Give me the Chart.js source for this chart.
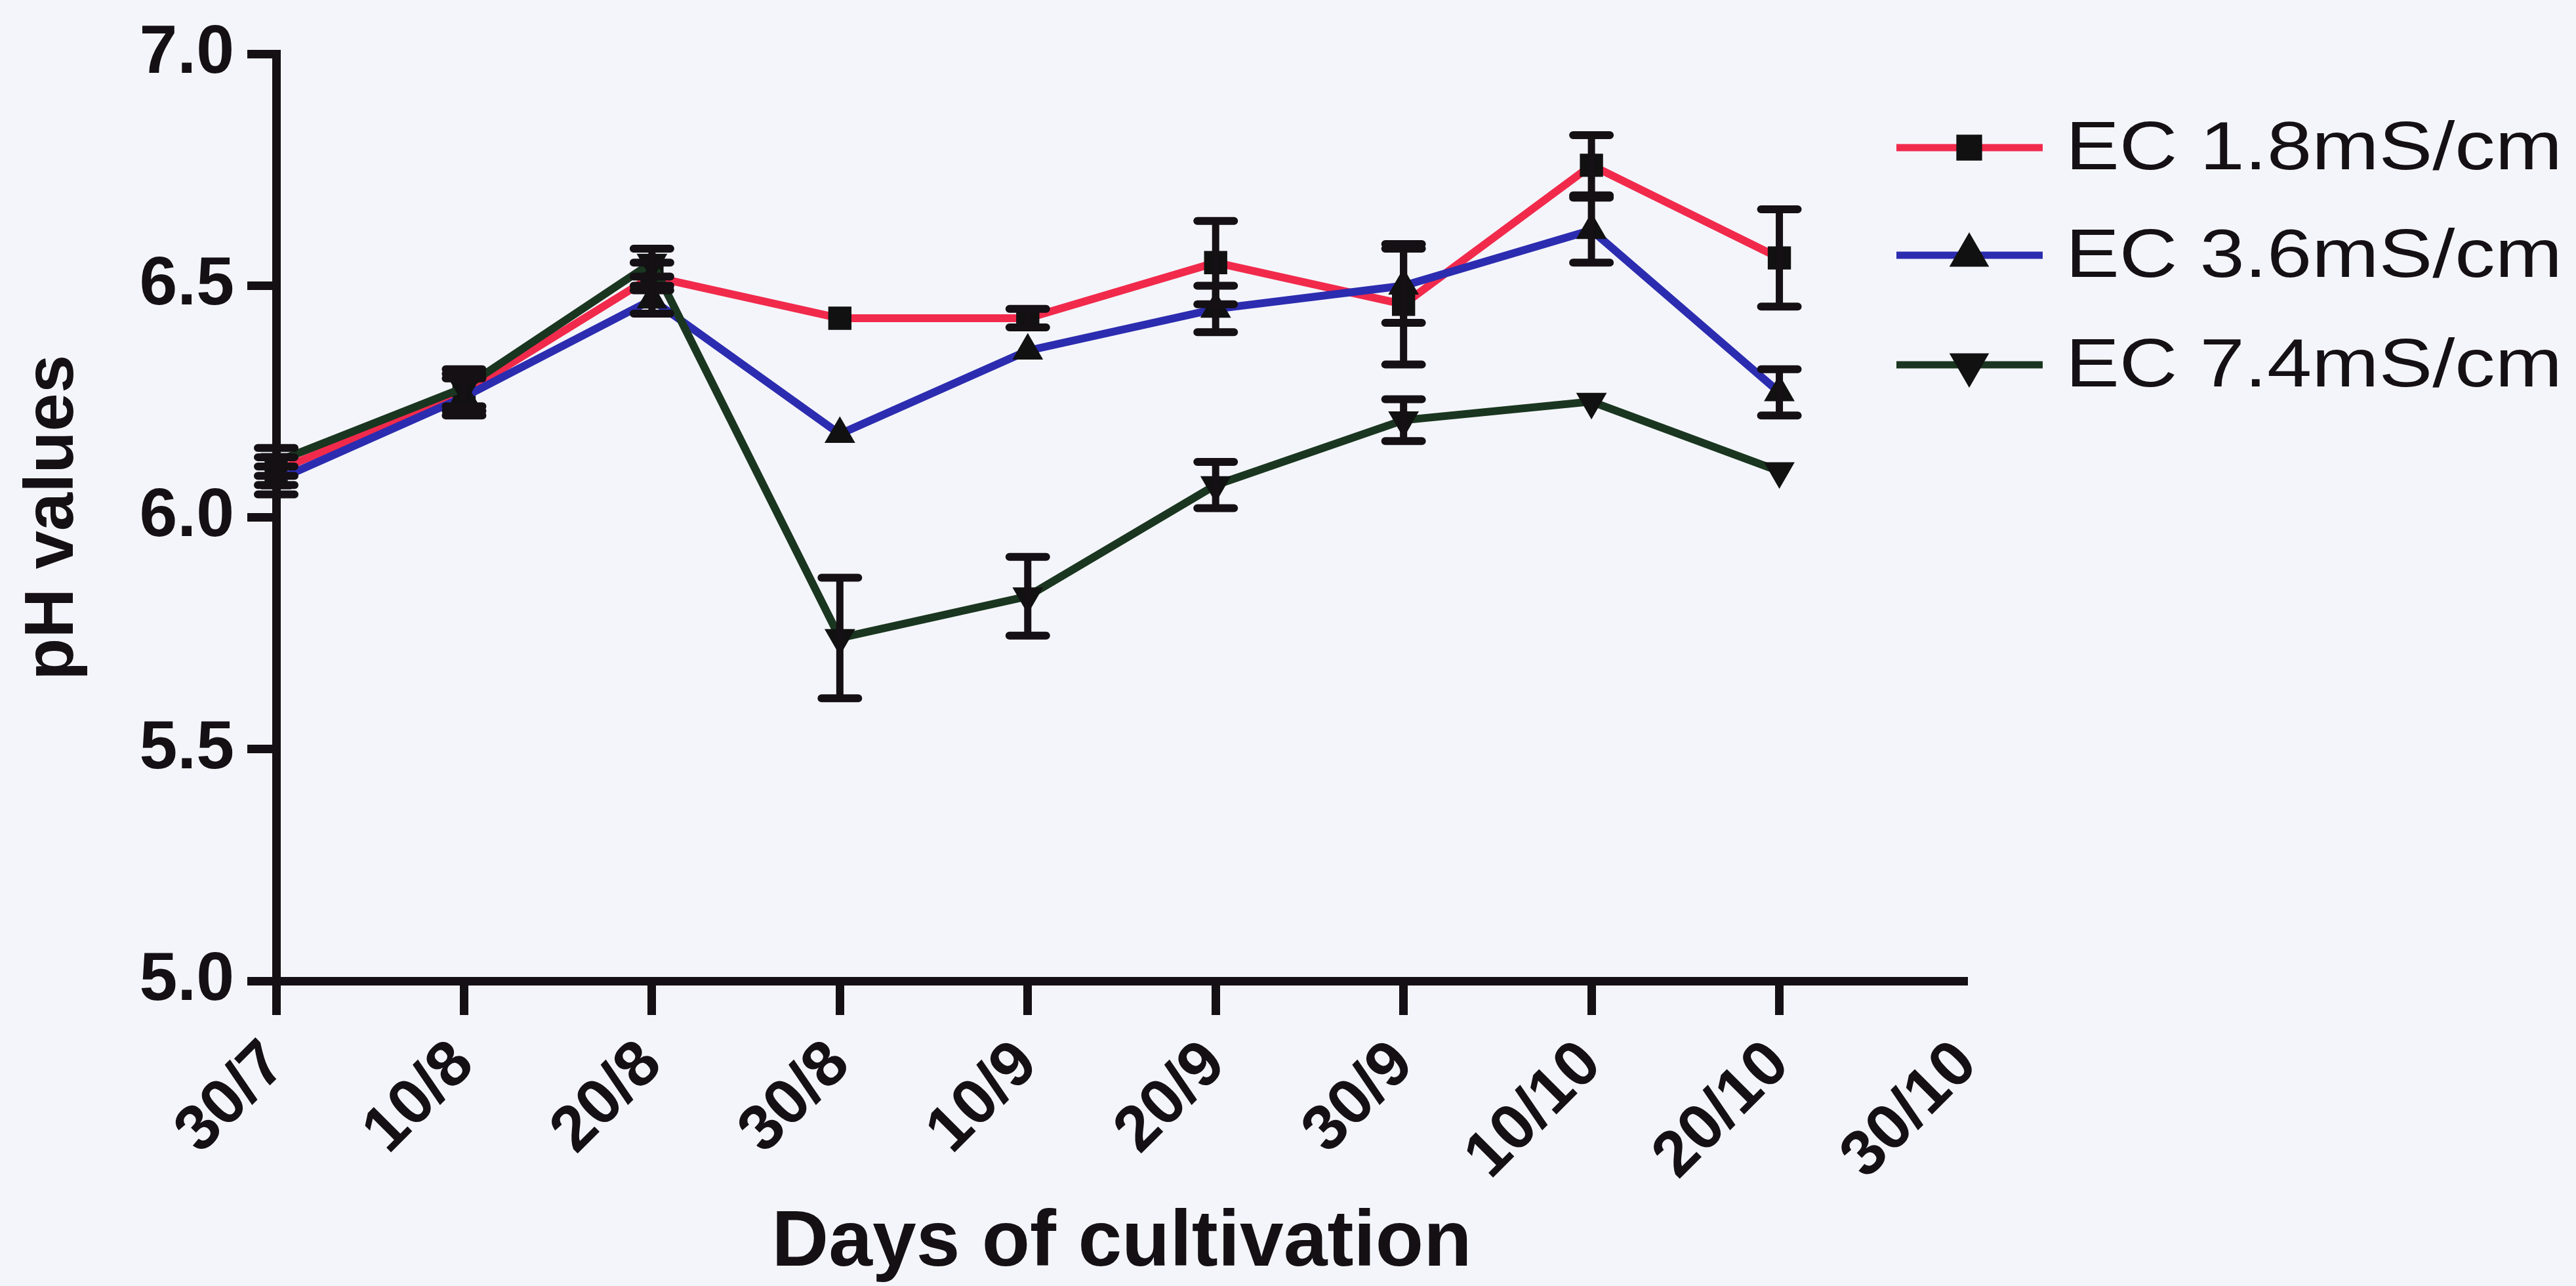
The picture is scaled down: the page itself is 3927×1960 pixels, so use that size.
<!DOCTYPE html>
<html>
<head>
<meta charset="utf-8">
<script src="https://cdn.jsdelivr.net/npm/chart.js@4.4.1/dist/chart.umd.min.js"></script>
<style>
  html, body { margin: 0; padding: 0; background: #f4f5fa; }
  canvas { display: block; }
</style>
</head>
<body>
<canvas id="phChart" width="3927" height="1960"></canvas>
<script>
// sampling dates (day/month) and y ticks
var days = ['30/7', '10/8', '20/8', '30/8', '10/9', '20/9', '30/9', '10/10', '20/10', '30/10'];
var yTicks = [5.0, 5.5, 6.0, 6.5, 7.0];

// mean pH and error per series (0 = bar hidden behind the marker)
var ec18 = [6.10, 6.27, 6.52, 6.43, 6.43, 6.55, 6.46, 6.76, 6.56, null];
var ec18Err = [0.03, 0.04, 0.03, 0, 0.02, 0.09, 0.13, 0.065, 0.105, null];
var ec36 = [6.08, 6.26, 6.47, 6.18, 6.36, 6.45, 6.50, 6.62, 6.27, null];
var ec36Err = [0.03, 0.04, 0.03, 0, 0, 0.05, 0.08, 0.07, 0.05, null];
var ec74 = [6.12, 6.28, 6.55, 5.74, 5.83, 6.07, 6.21, 6.25, 6.10, null];
var ec74Err = [0.03, 0.04, 0.03, 0.13, 0.085, 0.05, 0.045, 0, 0, null];

var allErrors = [ec18Err, ec36Err, ec74Err];

var errorBars = {
    id: 'errorBars',
    afterDatasetsDraw: function (chart) {
        var ctx = chart.ctx;
        var y = chart.scales.y;
        ctx.save();
        ctx.strokeStyle = '#141014';
        ctx.lineCap = 'round';
        chart.data.datasets.forEach(function (ds, i) {
            var meta = chart.getDatasetMeta(i);
            allErrors[i].forEach(function (e, j) {
                if (!e || ds.data[j] == null) return;
                var x = meta.data[j].x;
                var top = y.getPixelForValue(ds.data[j] + e);
                var bot = y.getPixelForValue(ds.data[j] - e);
                ctx.lineWidth = 11;
                ctx.beginPath();
                ctx.moveTo(x, top);
                ctx.lineTo(x, bot);
                ctx.stroke();
                ctx.lineWidth = 12;
                ctx.beginPath();
                ctx.moveTo(x - 28, top);
                ctx.lineTo(x + 28, top);
                ctx.moveTo(x - 28, bot);
                ctx.lineTo(x + 28, bot);
                ctx.stroke();
            });
        });
        ctx.restore();
    }
};

// line + marker + label, the GraphPad way
var sideLegend = {
    id: 'sideLegend',
    afterDraw: function (chart) {
        var ctx = chart.ctx;
        var rows = [225, 389, 556];
        chart.data.datasets.forEach(function (ds, i) {
            var ry = rows[i];
            ctx.save();
            ctx.strokeStyle = ds.borderColor;
            ctx.lineWidth = 11;
            ctx.beginPath();
            ctx.moveTo(2891, ry);
            ctx.lineTo(3114, ry);
            ctx.stroke();
            ctx.fillStyle = '#111';
            ctx.strokeStyle = '#111';
            Chart.helpers.drawPoint(ctx, {
                pointStyle: ds.pointStyle,
                rotation: ds.pointRotation || 0,
                radius: ds.pointStyle === 'rect' ? 20 : 24,
                borderWidth: 1
            }, 3002, ry);
            ctx.translate(3149, ry + 4);
            ctx.scale(1.18, 1);
            ctx.font = '104px "Liberation Sans", Arial, sans-serif';
            ctx.textBaseline = 'middle';
            ctx.fillStyle = '#141014';
            ctx.fillText(ds.label, 0, 0);
            ctx.restore();
        });
    }
};

var ctx = document.getElementById('phChart').getContext('2d');
var chart = new Chart(ctx, {
    type: 'line',
    data: {
        labels: days,
        datasets: [{
            label: 'EC 1.8mS/cm',
            data: ec18,
            borderColor: '#f12a4c',
            borderWidth: 12,
            pointStyle: 'rect',
            pointRadius: 25,
            pointBackgroundColor: '#111',
            pointBorderColor: '#111',
            pointBorderWidth: 0,
            tension: 0,
            order: 2
        }, {
            label: 'EC 3.6mS/cm',
            data: ec36,
            borderColor: '#2c2cb0',
            borderWidth: 12,
            pointStyle: 'triangle',
            pointRadius: 27,
            pointBackgroundColor: '#111',
            pointBorderColor: '#111',
            pointBorderWidth: 0,
            tension: 0,
            order: 1
        }, {
            label: 'EC 7.4mS/cm',
            data: ec74,
            borderColor: '#1a3620',
            borderWidth: 12,
            pointStyle: 'triangle',
            pointRotation: 180,
            pointRadius: 27,
            pointBackgroundColor: '#111',
            pointBorderColor: '#111',
            pointBorderWidth: 0,
            tension: 0,
            order: 0
        }]
    },
    options: {
        responsive: false,
        animation: false,
        devicePixelRatio: 1,
        layout: { padding: { top: 80, right: 928, left: 0, bottom: 0 } },
        plugins: {
            legend: { display: false },
            tooltip: { enabled: false }
        },
        scales: {
            x: {
                offset: false,
                afterFit: function (s) { s.height = 465; },
                grid: {
                    drawOnChartArea: false,
                    tickLength: 52,
                    tickWidth: 13,
                    tickColor: function (c) { return c.index === days.length - 1 ? 'rgba(0,0,0,0)' : '#141014'; }
                },
                border: { color: '#141014', width: 13 },
                ticks: {
                    autoSkip: false,
                    minRotation: 45,
                    maxRotation: 45,
                    padding: 18,
                    color: '#141014',
                    font: { family: '"Liberation Sans", Arial, sans-serif', size: 98, weight: 'bold' }
                },
                title: {
                    display: true,
                    text: 'Days of cultivation',
                    color: '#141014',
                    padding: { top: 0, bottom: 4 },
                    font: { family: '"Liberation Sans", Arial, sans-serif', size: 120, weight: 'bold', lineHeight: 1.0 }
                }
            },
            y: {
                min: 5,
                max: 7,
                afterFit: function (s) { s.width = 421; },
                afterBuildTicks: function (s) { s.ticks = yTicks.map(function (v) { return { value: v }; }); },
                grid: {
                    drawOnChartArea: false,
                    tickLength: 44,
                    tickWidth: 13,
                    tickColor: '#141014'
                },
                border: { color: '#141014', width: 13 },
                ticks: {
                    padding: 20,
                    color: '#141014',
                    font: { family: '"Liberation Sans", Arial, sans-serif', size: 104, weight: 'bold' },
                    callback: function (v) { return Number(v).toFixed(1); }
                },
                title: {
                    display: true,
                    text: 'pH values',
                    color: '#141014',
                    padding: { top: 30, bottom: 0 },
                    font: { family: '"Liberation Sans", Arial, sans-serif', size: 105, weight: 'bold', lineHeight: 1.0 }
                }
            }
        }
    },
    plugins: [errorBars, sideLegend]
});
</script>
</body>
</html>
